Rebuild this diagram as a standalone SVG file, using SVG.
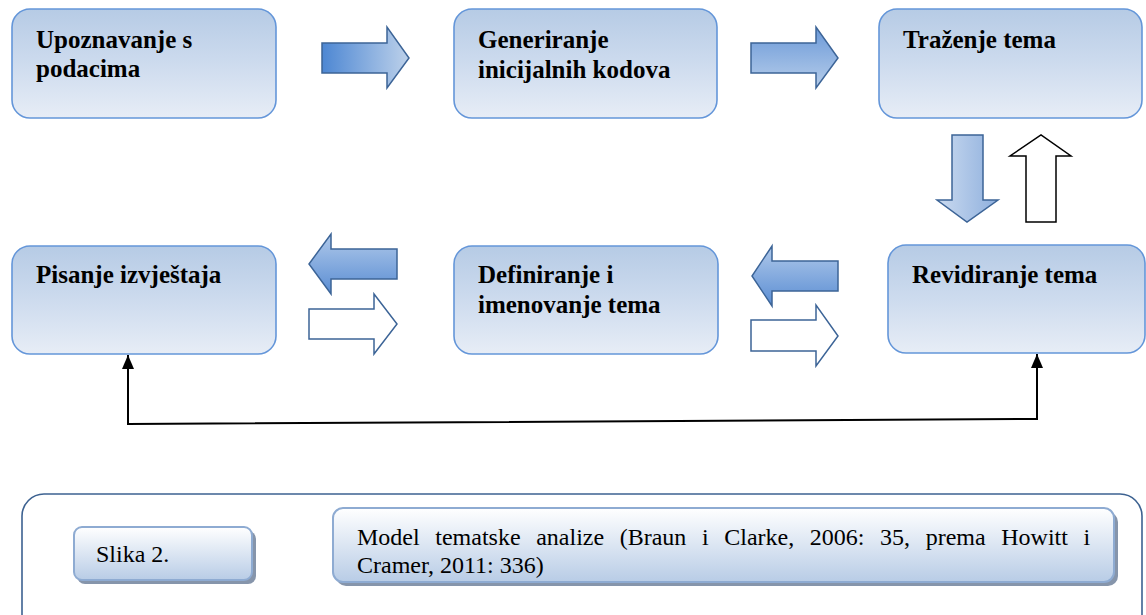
<svg xmlns="http://www.w3.org/2000/svg" width="1146" height="615" viewBox="0 0 1146 615">
<defs>
<linearGradient id="gNode" x1="0" y1="0" x2="0" y2="1">
<stop offset="0" stop-color="#b6cbe5"/><stop offset="0.5" stop-color="#cddbee"/><stop offset="1" stop-color="#e7edf6"/>
</linearGradient>
<linearGradient id="gH" x1="0" y1="0" x2="1" y2="0">
<stop offset="0" stop-color="#4d87d3"/><stop offset="1" stop-color="#bdd1ea"/>
</linearGradient>
<linearGradient id="gV" x1="0" y1="0" x2="0" y2="1">
<stop offset="0" stop-color="#6b99d8"/><stop offset="1" stop-color="#b6cdea"/>
</linearGradient>
<linearGradient id="gVUp" x1="0" y1="0" x2="0" y2="1">
<stop offset="0" stop-color="#b0c9ea"/><stop offset="1" stop-color="#5a8dd3"/>
</linearGradient>
<linearGradient id="gDown" x1="0" y1="0" x2="1" y2="0">
<stop offset="0" stop-color="#cbdbf0"/><stop offset="1" stop-color="#8eafdd"/>
</linearGradient>
<linearGradient id="gCap" x1="0" y1="0" x2="0" y2="1">
<stop offset="0" stop-color="#ffffff"/><stop offset="1" stop-color="#b8cce6"/>
</linearGradient>
<marker id="ah" viewBox="0 0 14 12" refX="14" refY="6" markerWidth="14" markerHeight="12" markerUnits="userSpaceOnUse" orient="auto-start-reverse">
<path d="M0,0 L14,6 L0,12 Z" fill="#000"/>
</marker>
<style>
.node{fill:url(#gNode);stroke:#6496d9;stroke-width:1.6}
.t{font-family:"Liberation Serif","Times New Roman",serif;font-weight:bold;font-size:25px;fill:#000}
.arr{stroke:#3c6497;stroke-width:1.5;stroke-linejoin:miter}
.hollow{fill:#fff}
.cap{fill:url(#gCap);stroke:#8eabd2;stroke-width:2}
.shadow{fill:#8695ab}
.ct{font-family:"Liberation Serif","Times New Roman",serif;font-size:24px;fill:#000}
.conn{fill:none;stroke:#000;stroke-width:2}
</style>
</defs>
<rect width="1146" height="615" fill="#fff"/>

<g id="n1"><rect class="node" x="12" y="9" width="264" height="109" rx="18"/>
<text class="t" x="36" y="48">Upoznavanje s</text><text class="t" x="36" y="77">podacima</text></g>
<g id="n2"><rect class="node" x="454" y="9" width="263" height="109" rx="18"/>
<text class="t" x="478" y="48">Generiranje</text><text class="t" x="478" y="78">inicijalnih kodova</text></g>
<g id="n3"><rect class="node" x="879" y="9" width="263" height="109" rx="18"/>
<text class="t" x="903" y="48">Traženje tema</text></g>
<g id="n4"><rect class="node" x="888" y="245" width="257" height="108" rx="18"/>
<text class="t" x="912" y="283">Revidiranje tema</text></g>
<g id="n5"><rect class="node" x="454" y="246" width="264" height="108" rx="18"/>
<text class="t" x="478" y="283">Definiranje i</text><text class="t" x="478" y="313">imenovanje tema</text></g>
<g id="n6"><rect class="node" x="12" y="246" width="264" height="108" rx="18"/>
<text class="t" x="36" y="283">Pisanje izvještaja</text></g>

<g id="arrows">
<path class="arr" fill="url(#gH)" d="M322,43 H387 V27 L409,58 L387,88 V73 H322 Z"/>
<path class="arr" fill="url(#gV)" d="M751,43 H816 V27 L838,58 L816,88 V73 H751 Z"/>
<path class="arr" fill="url(#gDown)" d="M952,135 H983 V200 H998 L967,222 L937,200 H952 Z"/>
<path class="hollow" stroke="#000" stroke-width="1.5" d="M1026,222 H1056 V156 H1071 L1041,135 L1010,156 H1026 Z"/>
<path class="arr" fill="url(#gVUp)" d="M397,249 H331 V234 L309,264 L331,294 V279 H397 Z"/>
<path class="arr hollow" d="M309,309 H374 V294 L397,324 L374,354 V339 H309 Z"/>
<path class="arr" fill="url(#gVUp)" d="M838,261 H772 V246 L752,276 L772,306 V291 H838 Z"/>
<path class="arr hollow" d="M751,320 H816 V305 L838,336 L816,366 V351 H751 Z"/>
</g>

<g id="connectors">
<path class="conn" d="M1037,354 V419 L128,424 V355" marker-start="url(#ah)" marker-end="url(#ah)"/>
</g>

<g id="caption">
<rect x="22" y="494" width="1120" height="150" rx="22" fill="none" stroke="#3d6291" stroke-width="1.6"/>
<g id="slika">
<rect class="shadow" x="77" y="531" width="179" height="53" rx="8"/>
<rect class="cap" x="74" y="527" width="178" height="53" rx="8"/>
<text class="ct" x="96" y="562">Slika 2.</text>
</g>
<g id="model">
<rect class="shadow" x="336" y="512" width="782" height="74" rx="10"/>
<rect class="cap" x="333" y="508" width="781" height="74" rx="10"/>
<text class="ct" x="357" y="545" word-spacing="9.6">Model tematske analize (Braun i Clarke, 2006: 35, prema Howitt i</text>
<text class="ct" x="357" y="573">Cramer, 2011: 336)</text>
</g>
</g>
</svg>
